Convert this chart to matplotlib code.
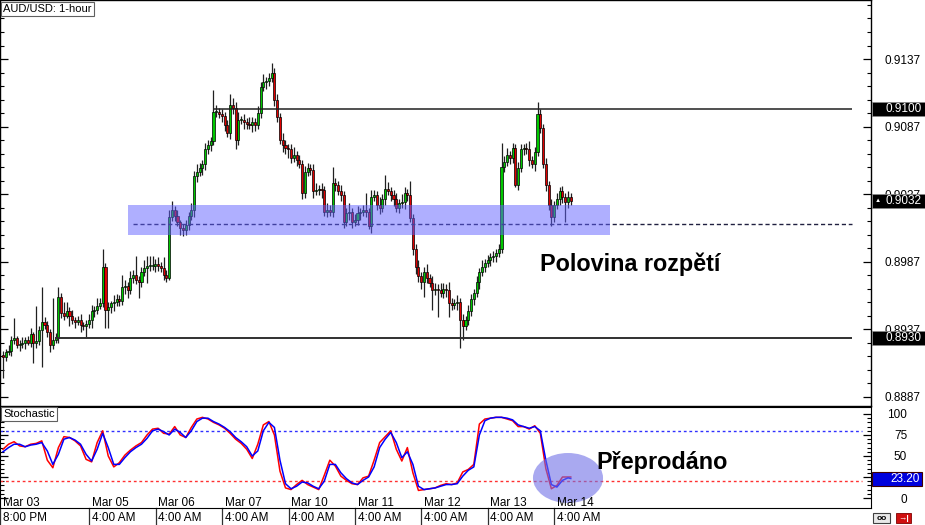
import numpy as np
import matplotlib
matplotlib.use("Agg")
import matplotlib.pyplot as plt
import matplotlib.transforms as mtrans
from matplotlib.patches import Rectangle, Ellipse
from matplotlib.ticker import FixedLocator

plt.rcParams['font.family'] = ['Liberation Sans', 'DejaVu Sans']

# --- data (AUD/USD 1-hour candles) ---
first_open = 0.8918
closes = [
    0.8916, 0.8920, 0.8921, 0.8929, 0.8930, 0.8925, 0.8926, 0.8927, 0.8929, 0.8927,
    0.8933, 0.8927, 0.8928, 0.8936, 0.8942, 0.8940, 0.8935, 0.8925, 0.8929, 0.8930,
    0.8961, 0.8949, 0.8947, 0.8950, 0.8947, 0.8944, 0.8942, 0.8944, 0.8940, 0.8939,
    0.8941, 0.8944, 0.8950, 0.8951, 0.8954, 0.8956, 0.8983, 0.8951, 0.8953, 0.8956,
    0.8957, 0.8959, 0.8958, 0.8968, 0.8969, 0.8966, 0.8975, 0.8977, 0.8973, 0.8972,
    0.8979, 0.8982, 0.8984, 0.8984, 0.8984, 0.8985, 0.8984, 0.8982, 0.8977, 0.8975,
    0.9020, 0.9025, 0.9021, 0.9016, 0.9012, 0.9010, 0.9014, 0.9021, 0.9025, 0.9050,
    0.9053, 0.9056, 0.9059, 0.9070, 0.9073, 0.9076, 0.9098, 0.9098, 0.9096, 0.9095,
    0.9088, 0.9082, 0.9103, 0.9101, 0.9077, 0.9092, 0.9092, 0.9090, 0.9089, 0.9088,
    0.9090, 0.9088, 0.9097, 0.9116, 0.9120, 0.9121, 0.9123, 0.9127, 0.9107, 0.9094,
    0.9077, 0.9073, 0.9071, 0.9070, 0.9064, 0.9066, 0.9062, 0.9059, 0.9038, 0.9053,
    0.9056, 0.9055, 0.9039, 0.9040, 0.9041, 0.9040, 0.9024, 0.9025, 0.9024, 0.9045,
    0.9044, 0.9039, 0.9036, 0.9016, 0.9023, 0.9024, 0.9016, 0.9018, 0.9023, 0.9024,
    0.9025, 0.9024, 0.9013, 0.9035, 0.9036, 0.9029, 0.9027, 0.9033, 0.9041, 0.9039,
    0.9036, 0.9033, 0.9027, 0.9030, 0.9031, 0.9038, 0.9036, 0.9019, 0.8996, 0.8983,
    0.8976, 0.8972, 0.8979, 0.8975, 0.8971, 0.8966, 0.8967, 0.8966, 0.8964, 0.8967,
    0.8966, 0.8956, 0.8955, 0.8956, 0.8957, 0.8944, 0.8939, 0.8944, 0.8950, 0.8959,
    0.8964, 0.8972, 0.8979, 0.8983, 0.8986, 0.8988, 0.8990, 0.8991, 0.8993, 0.8996,
    0.9057, 0.9061, 0.9066, 0.9064, 0.9071, 0.9044, 0.9056, 0.9070, 0.9071, 0.9070,
    0.9062, 0.9059, 0.9068, 0.9096, 0.9086, 0.9059, 0.9044, 0.9029, 0.9020, 0.9029,
    0.9033, 0.9039, 0.9035, 0.9031, 0.9035, 0.9032,
]
# wick sizes beyond the body, in pips
up_pips = [
    3, 2, 4, 3, 15, 2, 3, 4, 2, 3,
    5, 2, 26, 3, 26, 4, 3, 2, 31, 4,
    7, 3, 8, 7, 3, 4, 2, 3, 4, 2,
    3, 4, 5, 3, 6, 4, 13, 3, 4, 2,
    5, 4, 3, 9, 4, 3, 5, 4, 14, 3,
    4, 6, 7, 7, 7, 4, 5, 3, 8, 4,
    5, 7, 3, 4, 2, 3, 4, 3, 5, 4,
    6, 4, 3, 5, 4, 3, 16, 5, 3, 4,
    3, 4, 8, 5, 4, 6, 3, 4, 3, 5,
    4, 3, 5, 4, 6, 3, 4, 7, 3, 4,
    3, 5, 4, 3, 4, 6, 3, 4, 3, 5,
    4, 3, 4, 5, 3, 4, 3, 5, 4, 12,
    4, 3, 5, 3, 4, 6, 3, 4, 5, 3,
    4, 13, 3, 5, 4, 3, 6, 4, 10, 5,
    3, 4, 5, 3, 6, 4, 3, 11, 3, 4,
    5, 3, 4, 6, 3, 5, 4, 3, 5, 4,
    3, 6, 4, 3, 5, 3, 4, 3, 5, 4,
    3, 4, 3, 5, 3, 4, 3, 4, 3, 4,
    18, 4, 5, 3, 4, 3, 5, 4, 3, 4,
    6, 3, 4, 9, 4, 3, 5, 3, 4, 3,
    5, 3, 4, 3, 4, 3,
]
dn_pips = [
    15, 3, 2, 4, 3, 2, 4, 3, 5, 2,
    3, 15, 4, 3, 27, 3, 4, 5, 3, 2,
    3, 4, 3, 2, 8, 3, 4, 2, 5, 3,
    8, 3, 6, 4, 3, 2, 3, 13, 13, 4,
    6, 3, 4, 3, 5, 6, 3, 4, 3, 12,
    4, 3, 11, 4, 3, 5, 4, 3, 4, 3,
    2, 3, 4, 3, 5, 4, 3, 4, 3, 5,
    4, 3, 5, 4, 3, 4, 3, 4, 3, 5,
    4, 3, 4, 5, 7, 4, 3, 5, 4, 3,
    5, 4, 3, 4, 3, 5, 4, 3, 5, 4,
    3, 5, 4, 6, 4, 3, 4, 3, 5, 4,
    3, 4, 5, 3, 4, 6, 3, 4, 3, 4,
    5, 3, 4, 4, 3, 5, 4, 3, 4, 5,
    3, 4, 2, 5, 3, 4, 5, 3, 4, 3,
    4, 5, 3, 4, 3, 5, 4, 3, 4, 5,
    4, 5, 11, 4, 3, 15, 4, 20, 3, 4,
    5, 10, 4, 3, 5, 21, 10, 3, 4, 3,
    4, 3, 5, 3, 4, 3, 4, 3, 4, 3,
    3, 4, 3, 5, 4, 2, 4, 3, 4, 3,
    4, 3, 5, 3, 4, 3, 5, 4, 7, 4,
    3, 4, 5, 15, 4, 3,
]

# stochastic, sampled every second bar plus the last bar
stoch_main = [
    58, 64, 67, 62, 61, 64, 65, 68, 45, 36,
    60, 73, 72, 68, 62, 46, 43, 66, 80, 50,
    37, 42, 51, 57, 62, 66, 75, 82, 83, 77,
    76, 85, 75, 72, 84, 94, 96, 94, 90, 87,
    83, 77, 70, 65, 58, 47, 64, 87, 91, 75,
    32, 12, 10, 16, 21, 16, 13, 10, 27, 45,
    38, 26, 21, 17, 16, 24, 26, 45, 66, 73,
    80, 58, 44, 60, 30, 9, 10, 11, 12, 15,
    17, 16, 18, 31, 34, 40, 88, 94, 95, 96,
    96, 94, 92, 85, 85, 82, 86, 77, 35, 11,
    15, 25, 25, 25,
]
stoch_signal = [
    55, 60, 64, 64, 61, 63, 64, 66, 56, 40,
    52, 70, 72, 69, 64, 52, 44, 58, 77, 60,
    40, 40, 48, 55, 60, 64, 71, 80, 82, 79,
    75, 82, 78, 72, 80, 91, 95, 95, 91, 88,
    84, 79, 72, 67, 61, 50, 56, 80, 90, 84,
    45, 17, 11, 14, 19, 18, 14, 11, 20, 40,
    40, 30, 23, 18, 16, 21, 25, 37, 60, 70,
    78, 66, 48, 55, 40, 14, 10, 11, 12, 14,
    16, 16, 17, 26, 33, 37, 75, 92, 95, 96,
    96, 95, 93, 87, 85, 83, 85, 80, 45, 16,
    13, 21, 24, 23.2,
]
stoch_bars = np.append(np.arange(0, 205, 2), 205)

date_labels = ["Mar 03", "Mar 05", "Mar 06", "Mar 07", "Mar 10",
               "Mar 11", "Mar 12", "Mar 13", "Mar 14"]
time_labels = ["8:00 PM", "4:00 AM", "4:00 AM", "4:00 AM", "4:00 AM",
               "4:00 AM", "4:00 AM", "4:00 AM", "4:00 AM"]
label_bars = [0, 32, 56, 80, 104, 128, 152, 176, 200]

price_ticks = [0.8887, 0.8937, 0.8987, 0.9037, 0.9087, 0.9137]
stoch_ticks = [0, 50, 75, 100]
resistance = 0.9100
support = 0.8930
mid_level = 0.9015
last_price = 0.9032
stoch_last = 23.20

# --- figure ---
W, H = 925, 525
fig = plt.figure(figsize=(W / 100, H / 100), dpi=100)
fig.patch.set_facecolor('white')

ax = fig.add_axes([0, 1 - 406 / H, 871 / W, 406 / H])
ax2 = fig.add_axes([0, 1 - 508 / H, 871 / W, 101 / H])

n = len(closes)
x = np.arange(n)
c = np.array(closes)
o = np.concatenate([[first_open], c[:-1]])
top = np.maximum(o, c)
bot = np.minimum(o, c)
hi = top + np.array(up_pips) * 0.0001
lo = bot - np.array(dn_pips) * 0.0001
bull = c >= o

ax.vlines(x, lo, hi, color='#202020', lw=0.9, zorder=2)
ax.bar(x[bull], np.maximum(top - bot, 0.00004)[bull], bottom=bot[bull], width=0.75,
       color='#00c800', edgecolor='black', linewidth=0.5, zorder=3)
ax.bar(x[~bull], np.maximum(top - bot, 0.00004)[~bull], bottom=bot[~bull], width=0.75,
       color='#e00000', edgecolor='black', linewidth=0.5, zorder=3)

# levels and range box
ax.hlines(resistance, 75.8, 306.5, color='#202020', lw=1.1, zorder=4)
ax.hlines(support, 18.8, 306.5, color='#303030', lw=1.4, zorder=4)
ax.hlines(mid_level, 47.0, 306.5, color='#202040', lw=1.0, linestyles=(0, (3, 2)), zorder=4)
ax.add_patch(Rectangle((45.1, 0.90067), 174.0, 0.00222, facecolor='#6161ff',
                       alpha=0.5, edgecolor='none', zorder=5))

xmin, xmax = -1.08, 313.4
ax.set_xlim(xmin, xmax)
ax.set_ylim(0.8880, 0.91807)
ax.set_xticks([])
ax.yaxis.set_major_locator(FixedLocator(price_ticks))
ax.yaxis.set_minor_locator(FixedLocator(np.arange(0.8887, 0.9180, 0.001)))
ax.yaxis.set_major_formatter(matplotlib.ticker.FormatStrFormatter('%.4f'))
ax.tick_params(axis='y', which='both', direction='in', left=True, right=True,
               labelleft=False, labelright=True, labelsize=8.5, pad=10)
ax.tick_params(axis='y', which='major', length=6, width=0.9)
ax.tick_params(axis='y', which='minor', length=3, width=0.8)
for s in ax.spines.values():
    s.set_linewidth(1.0)

blend = mtrans.blended_transform_factory(ax.transAxes, ax.transData)
box_w = (W - 872) / 871
box_h = 14 / 13500
for lvl in (resistance, support, last_price):
    ax.add_patch(Rectangle((872 / 871, lvl - box_h / 2), box_w, box_h, transform=blend,
                           facecolor='black', edgecolor='#888888', lw=0.6,
                           clip_on=False, zorder=10))
    ax.text(886 / 871, lvl, '%.4f' % lvl, transform=blend, color='white', fontsize=8.5,
            ha='left', va='center', clip_on=False, zorder=11)
ax.text(875 / 871, last_price + 0.00005, '\u25b2', transform=blend, color='white',
        fontsize=4.5, ha='left', va='center', clip_on=False, zorder=11)

ax.text(3 / 871, 1 - 9 / 406, 'AUD/USD: 1-hour', transform=ax.transAxes, fontsize=8,
        ha='left', va='center', zorder=12,
        bbox=dict(boxstyle='square,pad=0.2', fc='white', ec='#606060', lw=0.8))
ax.text(193.9, 0.8985, 'Polovina rozpětí', fontsize=16.8, fontweight='bold',
        ha='left', va='center', zorder=12)

# --- stochastic panel ---
ax2.plot(stoch_bars, stoch_main, color='#ff0000', lw=1.1, zorder=3)
ax2.plot(stoch_bars, stoch_signal, color='#0000ff', lw=1.1, zorder=4)
ax2.hlines(80, xmin, 310.0, color='#3030ff', lw=1.0, linestyles=(0, (2, 2)), zorder=2)
ax2.hlines(20, xmin, 310.0, color='#ff3030', lw=1.0, linestyles=(0, (2, 2)), zorder=2)
ax2.add_patch(Ellipse((204.0, 23.8), 25.3, 59.5, facecolor='#7171e6', alpha=0.6,
                      edgecolor='none', zorder=5))
ax2.text(214.4, 41.7, 'Přeprodáno', fontsize=16.8, fontweight='bold',
         ha='left', va='center', zorder=12)

ax2.set_xlim(xmin, xmax)
ax2.set_ylim(-11.9, 108.3)
ax2.set_xticks([])
ax2.yaxis.set_major_locator(FixedLocator(stoch_ticks + [25]))
ax2.yaxis.set_major_formatter(matplotlib.ticker.FuncFormatter(
    lambda v, p: '' if v == 25 else '%d' % v))
ax2.yaxis.set_minor_locator(FixedLocator(np.arange(0, 101, 5)))
ax2.tick_params(axis='y', which='both', direction='in', left=True, right=True,
                labelleft=False, labelright=True, labelsize=8.5, pad=26)
ax2.tick_params(axis='y', which='major', length=6, width=0.9)
ax2.tick_params(axis='y', which='minor', length=3, width=0.8)
for lbl in ax2.get_yticklabels():
    lbl.set_horizontalalignment('right')

blend2 = mtrans.blended_transform_factory(ax2.transAxes, ax2.transData)
sh = 14 / 0.84
ax2.add_patch(Rectangle((872 / 871, stoch_last - sh / 2), (922 - 872) / 871, sh,
                        transform=blend2, facecolor='#0000dd', edgecolor='#400000',
                        lw=0.8, clip_on=False, zorder=10))
ax2.text(920 / 871, stoch_last, '%.2f' % stoch_last, transform=blend2, color='white',
         fontsize=8.5, ha='right', va='center', clip_on=False, zorder=11)
ax2.text(3 / 871, 1 - 7 / 101, 'Stochastic', transform=ax2.transAxes, fontsize=8,
         ha='left', va='center', zorder=12,
         bbox=dict(boxstyle='square,pad=0.2', fc='white', ec='#606060', lw=0.8))

# time axis labels
tblend = mtrans.blended_transform_factory(ax2.transData, ax2.transAxes)
for b, d, t in zip(label_bars, date_labels, time_labels):
    ax2.text(b, 5 / 101, d, transform=tblend, fontsize=8.5, ha='left', va='center',
             zorder=12, clip_on=False)
    ax2.text(b, -10 / 101, t, transform=tblend, fontsize=8.5, ha='left', va='center',
             clip_on=False)
    ax2.plot([b - 0.9, b - 0.9], [0, -17 / 101], transform=tblend, color='#303030',
             lw=0.9, clip_on=False)

# small buttons bottom right
fig.add_artist(Rectangle((873 / W, 1 - 523 / H), 17 / W, 10 / H, transform=fig.transFigure,
                         facecolor='#e8e8e8', edgecolor='#404040', lw=0.8))
fig.text(881.5 / W, 1 - 518 / H, 'oo', fontsize=6, ha='center', va='center',
         fontweight='bold')
fig.add_artist(Rectangle((896 / W, 1 - 523 / H), 15 / W, 10 / H, transform=fig.transFigure,
                         facecolor='#d01010', edgecolor='#800000', lw=0.6))
fig.text(903.5 / W, 1 - 518 / H, '\u2192|', fontsize=6, ha='center', va='center',
         color='white', fontweight='bold')

fig.savefig('out.png', dpi=100)
